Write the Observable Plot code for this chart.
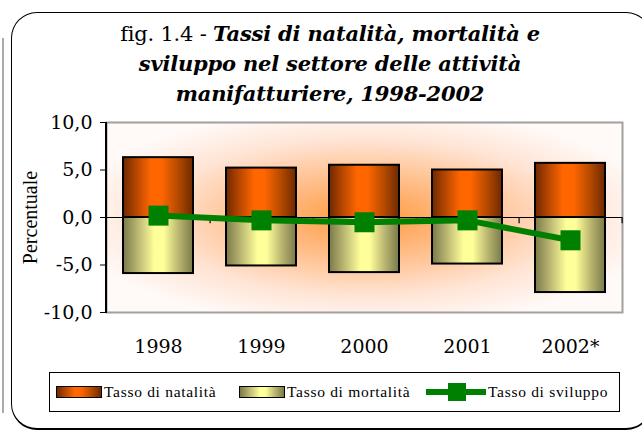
<!DOCTYPE html>
<html><head><meta charset="utf-8">
<script src="https://cdn.jsdelivr.net/npm/d3@7"></script>
<script src="https://cdn.jsdelivr.net/npm/@observablehq/plot@0.6"></script>
<style>
body{margin:0;background:#fff;}
#wrap{position:relative;width:642px;height:432px;overflow:hidden;font-family:"Liberation Serif",serif;color:#000;}
#frame{position:absolute;left:11px;top:12px;width:641px;height:418px;border:1.5px solid #000;border-bottom-width:2.5px;border-radius:26px;box-sizing:border-box;}
#side{position:absolute;left:2px;top:38px;width:2px;height:375px;background:#aaa;}
#title{position:absolute;left:0;width:660px;top:19px;text-align:center;font-family:"DejaVu Serif",serif;font-size:21px;line-height:30px;letter-spacing:-0.2px;}
#title b{font-style:italic;}
#chart{position:absolute;left:0;top:100px;}
#legend{position:absolute;left:49px;top:372px;width:571px;height:40px;border:1px solid #000;background:#fff;box-sizing:border-box;font-size:15.5px;letter-spacing:0.7px;}
.item{position:absolute;top:0;height:38px;display:flex;align-items:center;}
.sw{width:44px;height:10px;border:1.5px solid #000;margin-right:2px;}
.sw.o{background:linear-gradient(to right,#6e2800 0%,#a84000 15%,#ff6600 40%,#ff6600 55%,#b04800 80%,#6e2800 100%);}
.sw.y{background:linear-gradient(to right,#7a7a48 0%,#a8a468 15%,#ffff99 45%,#ffff99 58%,#b8b470 80%,#7a7a48 100%);}
</style></head>
<body>
<svg width="0" height="0" style="position:absolute">
<defs>
<radialGradient id="bg" cx="0.5" cy="0.5" r="0.58">
<stop offset="0" stop-color="#ff9a3c"/>
<stop offset="0.35" stop-color="#ffbd88"/>
<stop offset="0.7" stop-color="#ffe4d4"/>
<stop offset="1" stop-color="#fffaf8"/>
</radialGradient>
<linearGradient id="og" x1="0" x2="1" y1="0" y2="0">
<stop offset="0" stop-color="#6e2800"/>
<stop offset="0.15" stop-color="#a84000"/>
<stop offset="0.4" stop-color="#ff6600"/>
<stop offset="0.55" stop-color="#ff6600"/>
<stop offset="0.8" stop-color="#b04800"/>
<stop offset="1" stop-color="#6e2800"/>
</linearGradient>
<linearGradient id="yg" x1="0" x2="1" y1="0" y2="0">
<stop offset="0" stop-color="#7a7a48"/>
<stop offset="0.15" stop-color="#a8a468"/>
<stop offset="0.45" stop-color="#ffff99"/>
<stop offset="0.58" stop-color="#ffff99"/>
<stop offset="0.8" stop-color="#b8b470"/>
<stop offset="1" stop-color="#7a7a48"/>
</linearGradient>
</defs>
</svg>
<div id="wrap">
<div id="side"></div>
<div id="frame"></div>
<div id="title">fig. 1.4 - <b>Tassi di natalità, mortalità e<br>sviluppo nel settore delle attività<br>manifatturiere, 1998-2002</b></div>
<div id="chart"></div>
<div id="legend">
<div class="item" style="left:6px"><div class="sw o"></div>Tasso di natalità</div>
<div class="item" style="left:189px"><div class="sw y"></div>Tasso di mortalità</div>
<div class="item" style="left:376px"><svg width="60" height="20" style="margin-right:2px"><line x1="0" x2="60" y1="10" y2="10" stroke="#008000" stroke-width="6"/><rect x="22" y="1" width="18" height="18" fill="#008000"/></svg>Tasso di sviluppo</div>
</div>
</div>
<script>
const years = ["1998", "1999", "2000", "2001", "2002*"];
const natalita = [6.3, 5.2, 5.5, 5.0, 5.7];
const mortalita = [-5.9, -5.1, -5.8, -4.9, -7.9];
const sviluppo = [0.2, -0.3, -0.5, -0.3, -2.4];
const yTicks = [-10, -5, 0, 5, 10];

const rows = years.map((y, i) => ({year: y, nat: natalita[i], mor: mortalita[i], svi: sviluppo[i]}));
const fmt = d => d.toFixed(1).replace(".", ",");

const leftAxisLine = (index, scales, values, dims) => {
  const l = document.createElementNS("http://www.w3.org/2000/svg", "line");
  l.setAttribute("x1", dims.marginLeft);
  l.setAttribute("x2", dims.marginLeft);
  l.setAttribute("y1", dims.marginTop);
  l.setAttribute("y2", dims.height - dims.marginBottom + 1);
  l.setAttribute("stroke", "#000");
  l.setAttribute("stroke-width", 2);
  return l;
};

const W = 642, ML = 106, MR = 20;
const step = (W - ML - MR) / years.length;

const chart = Plot.plot({
  width: W,
  height: 260,
  marginLeft: ML,
  marginRight: MR,
  marginTop: 22,
  marginBottom: 48,
  style: {fontFamily: "'DejaVu Serif', serif", background: "transparent", color: "#000"},
  x: {domain: years, paddingInner: 0.32, paddingOuter: 0.16, label: null},
  y: {domain: [-10, 10], label: null},
  marks: [
    Plot.frame({fill: "url(#bg)", stroke: "#a0a0a0", strokeWidth: 2}),
    Plot.barY(rows, {x: "year", y: "nat", fill: "url(#og)", stroke: "#000", strokeWidth: 2}),
    Plot.barY(rows, {x: "year", y: "mor", fill: "url(#yg)", stroke: "#000", strokeWidth: 2}),
    Plot.ruleY([0], {stroke: "#000", strokeWidth: 1.2}),
    Plot.ruleX(years, {x: d => d, y1: 0, y2: -0.65, dx: step / 2, stroke: "#000", strokeWidth: 1.2}),
    Plot.line(rows, {x: "year", y: "svi", stroke: "#008000", strokeWidth: 6}),
    Plot.dot(rows, {x: "year", y: "svi", symbol: "square", r: 11.3, fill: "#008000", stroke: "none"}),
    leftAxisLine,
    Plot.axisY({ticks: yTicks, tickFormat: fmt, tickSize: 6, tickPadding: 8, fontSize: 19, label: null}),
    Plot.axisX({tickSize: 0, tickPadding: 27, fontSize: 19, label: null}),
    Plot.text(["Percentuale"], {frameAnchor: "left", rotate: -90, dx: -76, textAnchor: "middle", fontSize: 20, fontFamily: "Liberation Serif, serif"})
  ]
});
document.getElementById("chart").appendChild(chart);
</script>
</body></html>
